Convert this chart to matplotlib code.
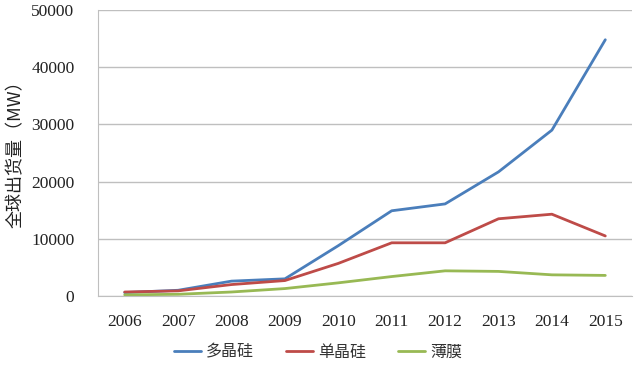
import matplotlib
matplotlib.use("Agg")
import matplotlib.pyplot as plt

years = ["2006", "2007", "2008", "2009", "2010", "2011", "2012", "2013", "2014", "2015"]
multi = [600, 1000, 2600, 3000, 8800, 14900, 16100, 21700, 29000, 44800]
mono = [700, 900, 2000, 2700, 5700, 9300, 9300, 13500, 14300, 10500]
film = [200, 300, 700, 1300, 2300, 3400, 4400, 4300, 3700, 3600]
series_names = ["多晶硅", "单晶硅", "薄膜"]
colors = ["#4A7EBB", "#BE4B48", "#98B954"]
yticks = [0, 10000, 20000, 30000, 40000, 50000]

plt.rcParams['font.family'] = ['Liberation Serif', 'Noto Sans CJK SC']
cjk = ['Noto Sans CJK SC', 'Liberation Serif']

fig = plt.figure(figsize=(6.4, 3.69), dpi=100)
ax = fig.add_axes([98/640, 1-296/369, (632-98)/640, (296-10)/369])

x = range(len(years))
for vals, name, c in zip([multi, mono, film], series_names, colors):
    ax.plot(x, vals, color=c, lw=2.0, label=name, solid_capstyle='round')

ax.set_xlim(-0.5, len(years)-0.5)
ax.set_ylim(0, 50000)
ax.set_yticks(yticks)
ax.set_yticklabels([str(v) for v in yticks])
ax.set_xticks(list(x))
ax.set_xticklabels(years)
ax.tick_params(axis='both', length=0, labelsize=12.5, colors='#222222')
ax.tick_params(axis='y', pad=17)
ax.tick_params(axis='x', pad=13)
ax.grid(axis='y', color='#BFBFBF', lw=1.0)
ax.set_axisbelow(True)
for s in ['top', 'right']:
    ax.spines[s].set_visible(False)
ax.spines['left'].set_color('#BFBFBF')
ax.spines['bottom'].set_color('#BFBFBF')

ax.set_ylabel("全球出货量（MW）", family=cjk, fontsize=13, fontweight='medium', color='#222222')
ax.yaxis.set_label_coords(-0.137, 0.51)

leg = fig.legend(loc='center', bbox_to_anchor=(318/640, 1-352/369), ncol=3, frameon=False,
                 prop={'family': cjk, 'size': 11.5}, handlelength=1.7, handletextpad=0.3,
                 columnspacing=2.0, labelcolor='#333333')

fig.savefig("out.png", dpi=100)
